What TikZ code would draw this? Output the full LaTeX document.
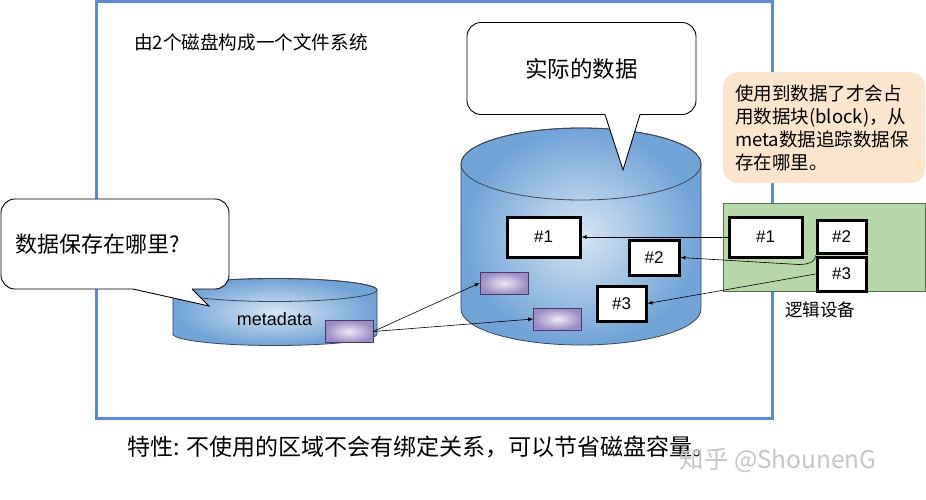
\documentclass[tikz,border=0pt]{standalone}
\usepackage{fontspec}
\setmainfont{Liberation Sans}
\newfontfamily\cjk{Noto Sans CJK SC}
\usetikzlibrary{arrows.meta,positioning}

\definecolor{framecol}{RGB}{92,138,212}
\definecolor{cylin}{RGB}{214,230,245}
\definecolor{cylout}{RGB}{112,163,214}
\definecolor{cylline}{RGB}{60,70,85}
\definecolor{purplein}{RGB}{238,232,247}
\definecolor{purpleout}{RGB}{156,140,196}
\definecolor{purpleline}{RGB}{70,60,105}
\definecolor{greenfill}{RGB}{182,215,168}
\definecolor{greenline}{RGB}{85,112,75}
\definecolor{peach}{RGB}{252,229,205}

\begin{document}
\begin{tikzpicture}[x=1pt,y=-1pt,
  numbox/.style={draw, line width=3pt, fill=white, inner sep=0pt,
    font=\fontsize{17}{20}\selectfont},
  blk/.style={draw=purpleline, line width=0.6pt, inner color=purplein,
    outer color=purpleout, inner sep=0pt, minimum width=48, minimum height=22},
  bubble/.style={draw, line width=0.9pt, fill=white, rounded corners=14pt},
  cylfill/.style={draw=cylline, line width=0.8pt, inner color=cylin, outer color=cylout},
  link/.style={-{Latex[length=5pt,width=4pt]}, line width=0.6pt}]
  \useasboundingbox (0,0) rectangle (926,499);

  % Filsystemet
  \draw[framecol, line width=3pt] (96,1) rectangle (772,418);
  \node[font=\cjk\fontsize{18.6}{21}\selectfont] (title) at (251,42) {由2个磁盘构成一个文件系统};

  % Stor disk
  \path[cylfill] (461,164) -- (461,309)
    arc[start angle=180, end angle=360, x radius=120pt, y radius=36pt] -- (701,164)
    arc[start angle=0, end angle=180, x radius=120pt, y radius=36pt] -- cycle;
  \draw[cylline, line width=0.8pt] (581,164) ellipse[x radius=120pt, y radius=36pt];

  % Liten disk (metadata)
  \path[cylfill] (173,290) -- (173,334)
    arc[start angle=180, end angle=360, x radius=102pt, y radius=11.5pt] -- (377,290)
    arc[start angle=0, end angle=180, x radius=102pt, y radius=11.5pt] -- cycle;
  \draw[cylline, line width=0.8pt] (275,290) ellipse[x radius=102pt, y radius=11.5pt];
  \node[font=\fontsize{18}{20}\selectfont] (metalabel) at (274.5,319) {metadata};

  % Blokker
  \node[blk] (meta1) at (349,331.5) {};
  \node[blk] (blk1) at (504,283) {};
  \node[blk] (blk2) at (557.5,319) {};
  \draw[link] (meta1.east) -- (blk1.west);
  \draw[link] (meta1.east) -- (blk2.west);

  \node[numbox, minimum width=73, minimum height=40] (c1) at (543.5,237) {\#1};
  \node[numbox, minimum width=50, minimum height=35] (c2) at (654,257.5) {\#2};
  \node[numbox, minimum width=49, minimum height=35] (c3) at (621.5,303.5) {\#3};

  % Snakkebobler
  \node[bubble, minimum width=229, minimum height=92,
    font=\cjk\fontsize{22.5}{26}\selectfont] (realdata) at (581.5,68.5) {实际的数据};
  \fill[white] (605,110) -- (605,114.5) -- (623,170) -- (640,114.5) -- (640,110) -- cycle;
  \draw[line width=0.9pt] (605,114.5) -- (623,170) -- (640,114.5);

  \node[bubble, minimum height=90, text width=200pt, align=left, inner xsep=14pt,
    font=\cjk\fontsize{22}{26}\selectfont] (where) at (115,244) {数据保存在哪里?};
  \fill[white] (133,285) -- (133,289) -- (209,306) -- (192,289) -- (192,285) -- cycle;
  \draw[line width=0.9pt] (133,289) -- (209,306) -- (192,289);

  % Merknad
  \node[fill=peach, rounded corners=15pt, anchor=north west, minimum height=111,
    text width=178pt, inner xsep=12pt, align=left,
    font=\cjk\fontsize{18.5}{23}\selectfont] (usage) at (723,72)
    {使用到数据了才会占\\用数据块(block)，从\\meta数据追踪数据保\\存在哪里。};

  % Logisk enhet
  \node[draw=greenline, fill=greenfill, line width=0.7pt, minimum width=202,
    minimum height=88, anchor=north west] (logical) at (723,203) {};
  \node[font=\cjk\fontsize{17.5}{20}\selectfont] (logicallabel) at (820,310) {逻辑设备};
  \node[numbox, minimum width=73, minimum height=40] (l1) at (765.5,237) {\#1};
  \node[numbox, minimum width=49, minimum height=33] (l2) at (841.5,236.5) {\#2};
  \node[numbox, minimum width=49, minimum height=34] (l3) at (841.5,274) {\#3};
  \draw[link] (l1.west) -- (c1.east);
  \draw[link] (l3.north west) to[out=-90, in=0] ++(-17,9) -- (c2.east);
  \draw[link] (l3.west) -- (c3.east);

  % Tekst
  \node[anchor=west, font=\cjk\fontsize{23}{27}\selectfont] (feature) at (124,447)
    {特性: 不使用的区域不会有绑定关系，可以节省磁盘容量。};
  \node[anchor=west, text=gray!45, font=\cjk\fontsize{24.5}{28}\selectfont] (mark) at (676,460)
    {知乎 @ShounenG};
\end{tikzpicture}
\end{document}
